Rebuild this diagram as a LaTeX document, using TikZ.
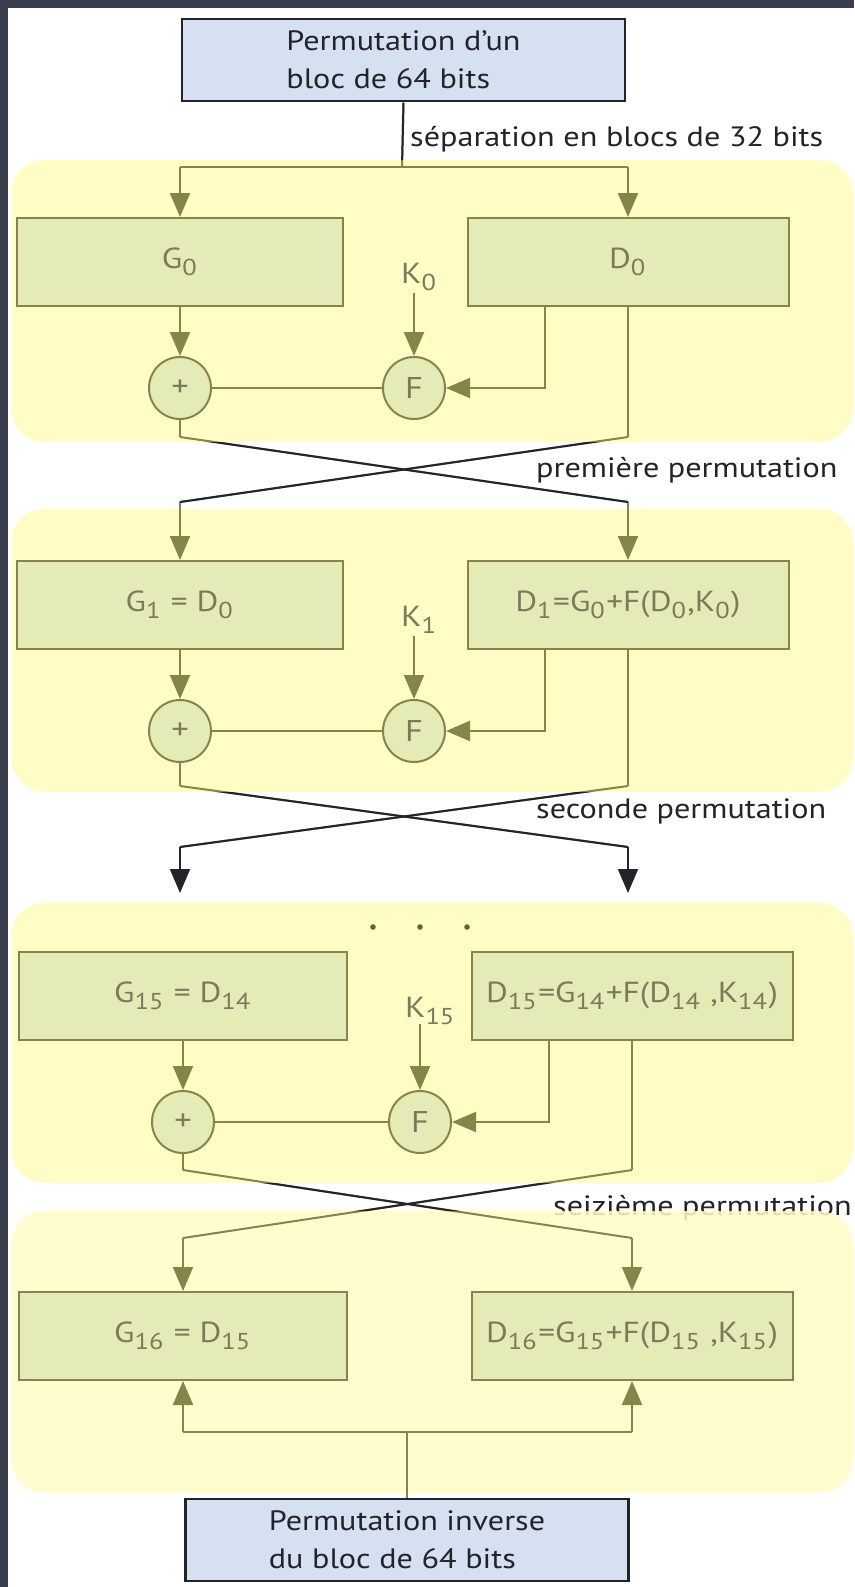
\documentclass[tikz,border=0pt]{standalone}
\usepackage{fontspec}
\setmainfont{PT Sans}[FakeStretch=1.15]
\usetikzlibrary{arrows.meta}

\definecolor{cadre}{HTML}{3B3E4C}
\definecolor{jaune}{HTML}{FFFCC5}
\definecolor{vert}{HTML}{E5EBB7}
\definecolor{olive}{HTML}{858548}
\definecolor{gris}{HTML}{7B7B5C}
\definecolor{bleu}{HTML}{D5E1F1}
\definecolor{encre}{HTML}{23232C}

% indice un peu bas
\newcommand{\ix}[1]{\raisebox{-0.5ex}{\fontsize{23}{23}\selectfont #1}\kern1.5pt\relax}

\tikzset{
  tour/.style={fill=jaune, rounded corners=34pt},
  bloc/.style={draw=olive, fill=vert, line width=2pt, minimum height=88pt, inner sep=0pt, text=gris, font=\fontsize{29}{32}\selectfont},
  perm/.style={draw=encre, fill=bleu, line width=2.5pt, minimum width=443pt, minimum height=82pt, align=left, text=encre, font=\fontsize{28}{38}\selectfont},
  op/.style={circle, draw=olive, fill=vert, line width=2pt, minimum size=62pt, inner sep=0pt, text=gris, font=\fontsize{30}{30}\selectfont},
  cle/.style={text=gris, inner sep=0pt, font=\fontsize{29}{32}\selectfont},
  lbl/.style={text=encre, inner sep=0pt, font=\fontsize{28}{32}\selectfont},
  trait/.style={draw=olive, line width=2pt},
  fleche/.style={draw=olive, line width=2pt, -{Triangle[length=24pt,width=20pt]}},
  noir/.style={draw=encre, line width=2pt},
  flechenoire/.style={draw=encre, line width=2pt, -{Triangle[length=24pt,width=20pt]}}
}

\begin{document}
\begin{tikzpicture}[x=1pt,y=-1pt]
% fond et cadre
\useasboundingbox (0,0) rectangle (854,1587);
\fill[cadre] (0,0) rectangle (854,1587);
\fill[white] (8,8) rectangle (854,1587);

% les quatre tours (en premier, derriere)
\fill[tour] (11,160) rectangle (853,442);
\fill[tour] (11,509) rectangle (853,792);
\fill[tour] (11,903) rectangle (853,1183);
\node[lbl, anchor=base west] (l16) at (553,1215) {seizième permutation};
\fill[tour, fill opacity=.86] (11,1211) rectangle (853,1493);

% permutation initiale
\node[perm] (ip) at (403.5,60) {Permutation d’un\\bloc de 64 bits};
\node[lbl, anchor=base west] (lsep) at (410,146) {séparation en blocs de 32 bits};
\coordinate (s) at (402,167);
\coordinate (s0l) at (180,167);
\coordinate (s0r) at (628,167);
\draw[trait] (ip.south) -- (s);
\draw[trait] (s0l) -- (s0r);

% tour 0
\node[bloc, minimum width=326pt] (g0) at (180,262) {G\ix{0}};
\node[bloc, minimum width=321pt] (d0) at (628,262) {D\ix{0}};
\node[op] (p0) at (180,388) {+};
\node[op] (f0) at (414,388) {F};
\node[cle, anchor=base west] (k0) at (401,283) {K\ix{0}};
\coordinate (k0a) at (414,293);
\coordinate (x0) at (545,0);
\draw[fleche] (s0l) -- (g0.north);
\draw[fleche] (s0r) -- (d0.north);
\draw[fleche] (g0.south) -- (p0.north);
\draw[fleche] (k0a) -- (f0.north);
\draw[fleche] (d0.south -| x0) |- (f0.east);
\draw[trait] (p0.east) -- (f0.west);
\coordinate (b0l) at (180,437);
\coordinate (b0r) at (628,437);
\draw[trait] (p0.south) -- (b0l);
\draw[trait] (d0.south) -- (b0r);

% premiere permutation
\coordinate (t1l) at (180,502);
\coordinate (t1r) at (628,502);
\draw[trait] (b0l) -- (t1r);
\draw[trait] (b0r) -- (t1l);
\node[lbl, anchor=base west] (l1) at (536,477) {première permutation};

% tour 1
\node[bloc, minimum width=326pt] (g1) at (180,605) {G\ix{1} = D\ix{0}};
\node[bloc, minimum width=321pt] (d1) at (628,605) {D\ix{1}=G\ix{0}+F(D\ix{0},K\ix{0})};
\node[op] (p1) at (180,731) {+};
\node[op] (f1) at (414,731) {F};
\node[cle, anchor=base west] (k1) at (401,626) {K\ix{1}};
\coordinate (k1a) at (414,636);
\draw[fleche] (t1l) -- (g1.north);
\draw[fleche] (t1r) -- (d1.north);
\draw[fleche] (g1.south) -- (p1.north);
\draw[fleche] (k1a) -- (f1.north);
\draw[fleche] (d1.south -| x0) |- (f1.east);
\draw[trait] (p1.east) -- (f1.west);
\coordinate (b1l) at (180,786);
\coordinate (b1r) at (628,786);
\draw[trait] (p1.south) -- (b1l);
\draw[trait] (d1.south) -- (b1r);

% seconde permutation
\coordinate (c2l) at (180,847);
\coordinate (c2r) at (628,847);
\coordinate (a3l) at (180,893);
\coordinate (a3r) at (628,893);
\draw[trait] (b1l) -- (c2r);
\draw[trait] (b1r) -- (c2l);
\draw[flechenoire] (c2l) -- (a3l);
\draw[flechenoire] (c2r) -- (a3r);
\node[lbl, anchor=base west] (l2) at (536,818) {seconde permutation};

% points de suspension
\foreach \x in {373,420,467}
  \fill[gris!80!black] (\x,927) circle (2.8pt);

% tour 15
\node[bloc, minimum width=328pt] (g15) at (183,996) {G\ix{15} = D\ix{14}};
\node[bloc, minimum width=321pt] (d15) at (632,996) {D\ix{15}=G\ix{14}+F(D\ix{14} ,K\ix{14})};
\node[op] (p15) at (183,1122) {+};
\node[op] (f15) at (420,1122) {F};
\node[cle, anchor=base west] (k15) at (405,1017) {K\ix{15}};
\coordinate (k15a) at (420,1024);
\coordinate (x15) at (549,0);
\draw[fleche] (g15.south) -- (p15.north);
\draw[fleche] (k15a) -- (f15.north);
\draw[fleche] (d15.south -| x15) |- (f15.east);
\draw[trait] (p15.east) -- (f15.west);
\coordinate (b15l) at (183,1170);
\coordinate (b15r) at (632,1170);
\draw[trait] (p15.south) -- (b15l);
\draw[trait] (d15.south) -- (b15r);

% seizieme permutation
\coordinate (t16l) at (183,1238);
\coordinate (t16r) at (632,1238);
\draw[trait] (b15l) -- (t16r);
\draw[trait] (b15r) -- (t16l);

% tour 16
\node[bloc, minimum width=328pt] (g16) at (183,1336) {G\ix{16} = D\ix{15}};
\node[bloc, minimum width=321pt] (d16) at (632,1336) {D\ix{16}=G\ix{15}+F(D\ix{15} ,K\ix{15})};
\draw[fleche] (t16l) -- (g16.north);
\draw[fleche] (t16r) -- (d16.north);
\coordinate (h16l) at (183,1432);
\coordinate (h16r) at (632,1432);
\draw[fleche] (h16l) -- (g16.south);
\draw[fleche] (h16r) -- (d16.south);
\draw[trait] (h16l) -- (h16r);

% permutation inverse
\node[perm] (inv) at (407,1540) {Permutation inverse\\du bloc de 64 bits};
\draw[trait] (inv.north) -- (inv.north |- h16l);

% hors des tours les traits sont noirs
\begin{scope}
\clip (0,103) rectangle (854,160) (0,442) rectangle (854,509)
      (0,792) rectangle (854,903) (0,1183) rectangle (854,1211);
\draw[noir] (ip.south) -- (s);
\draw[noir] (b0l) -- (t1r);
\draw[noir] (b0r) -- (t1l);
\draw[noir] (b1l) -- (c2r);
\draw[noir] (b1r) -- (c2l);
\draw[noir] (b15l) -- (t16r);
\draw[noir] (b15r) -- (t16l);
\end{scope}
\end{tikzpicture}
\end{document}
